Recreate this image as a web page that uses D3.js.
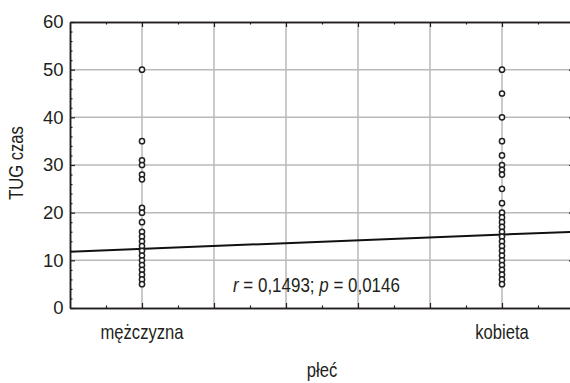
<!DOCTYPE html>
<meta charset="utf-8">
<style>
  body { margin: 0; background: #fff; }
  text { font-family: "Liberation Sans", Arial, sans-serif; fill: #231f20; }
</style>
<svg width="570" height="383"></svg>
<script src="https://cdnjs.cloudflare.com/ajax/libs/d3/7.8.5/d3.min.js"></script>
<script>

// categories on the x axis (coded 1 and 6 on a 0..7 scale)
var categories = ['mężczyzna', 'kobieta']
var categoryPos = [1, 6]

// TUG times
var menValues = [50, 35, 31, 30, 28, 27, 21, 20, 18, 16, 15, 14, 13, 12, 11, 10, 9, 8, 7, 6, 5]
var womenValues = [50, 45, 40, 35, 32, 30, 29, 28, 25, 22, 20, 19, 18, 17, 16, 15, 14, 13, 12, 11, 10, 9, 8, 7, 6, 5]

// regression line ends (at x = 0 and x = 7)
var lineX = [0, 7]
var lineY = [11.8, 16.0]

var yTicks = [0, 10, 20, 30, 40, 50, 60]

var svg = d3.select('svg')

var x = d3.scaleLinear().domain([0, 7]).range([70, 574])
var y = d3.scaleLinear().domain([0, 60]).range([308, 22])

// condensed look: squeeze text horizontally
var squeeze = 0.81

// grid
svg.append('g').selectAll('line').data(d3.range(1, 7))
    .enter().append('line')
    .attr('x1', d => x(d)).attr('x2', d => x(d))
    .attr('y1', y(0)).attr('y2', y(60))
    .attr('stroke', '#b9b9b9').attr('stroke-width', 1.5)

svg.append('g').selectAll('line').data(yTicks.slice(1, -1))
    .enter().append('line')
    .attr('x1', x(0)).attr('x2', x(7))
    .attr('y1', d => y(d)).attr('y2', d => y(d))
    .attr('stroke', '#b9b9b9').attr('stroke-width', 1.5)

// frame axes, ticks pointing inward
var bottomAxis = svg.append('g').attr('transform', 'translate(0,' + y(0) + ')')
bottomAxis.call(d3.axisBottom(x).tickValues(d3.range(1, 7)).tickSize(-5).tickSizeOuter(0).tickFormat(''))
bottomAxis.append('g').call(d3.axisBottom(x).tickValues(d3.range(0.5, 7, 1)).tickSize(-2.5).tickSizeOuter(0).tickFormat(''))

var topAxis = svg.append('g').attr('transform', 'translate(0,' + y(60) + ')')
topAxis.call(d3.axisTop(x).tickValues(d3.range(1, 7)).tickSize(-5).tickSizeOuter(0).tickFormat(''))
topAxis.append('g').call(d3.axisTop(x).tickValues(d3.range(0.5, 7, 1)).tickSize(-2.5).tickSizeOuter(0).tickFormat(''))

var leftAxis = svg.append('g').attr('transform', 'translate(' + x(0) + ',0)')
leftAxis.call(d3.axisLeft(y).tickValues(yTicks).tickSize(-5).tickSizeOuter(0).tickPadding(6.5).tickFormat(d3.format('d')))
leftAxis.append('g').call(d3.axisLeft(y).tickValues(d3.range(2, 60, 2).filter(d => d % 10)).tickSize(-2.5).tickSizeOuter(0).tickFormat(''))

var rightAxis = svg.append('g').attr('transform', 'translate(' + x(7) + ',0)')
rightAxis.call(d3.axisRight(y).tickValues(yTicks).tickSize(-5).tickSizeOuter(0).tickFormat(''))

svg.selectAll('.domain').attr('stroke', '#231f20').attr('stroke-width', 1.5)
svg.selectAll('.tick line').attr('stroke', '#231f20').attr('stroke-width', 1.2)
leftAxis.selectAll('.tick text').attr('font-size', 18.5).attr('fill', '#231f20')
    .attr('font-family', '"Liberation Sans", Arial, sans-serif')

// x category labels
svg.append('g').selectAll('text').data(categories)
    .enter().append('text')
    .attr('transform', (d, i) => 'translate(' + x(categoryPos[i]) + ',339) scale(' + squeeze + ',1)')
    .attr('text-anchor', 'middle')
    .attr('font-size', 20.5)
    .text(d => d)

// regression line
svg.append('line')
    .attr('x1', x(lineX[0])).attr('y1', y(lineY[0]))
    .attr('x2', x(lineX[1])).attr('y2', y(lineY[1]))
    .attr('stroke', '#111').attr('stroke-width', 2)

// points
var pts = menValues.map(v => ({ c: categoryPos[0], v: v }))
    .concat(womenValues.map(v => ({ c: categoryPos[1], v: v })))
svg.append('g').selectAll('circle').data(pts)
    .enter().append('circle')
    .attr('cx', d => x(d.c)).attr('cy', d => y(d.v))
    .attr('r', 2.6)
    .attr('fill', 'white').attr('stroke', '#231f20').attr('stroke-width', 1.5)

// stats text
var stat = svg.append('text')
    .attr('transform', 'translate(233,292) scale(0.87,1)')
    .attr('font-size', 19.5)
stat.append('tspan').attr('font-style', 'italic').text('r')
stat.append('tspan').text(' = 0,1493; ')
stat.append('tspan').attr('font-style', 'italic').text('p')
stat.append('tspan').text(' = 0,0146')

// axis titles
svg.append('text')
    .attr('transform', 'translate(23,163) rotate(-90) scale(' + squeeze + ',1)')
    .attr('text-anchor', 'middle')
    .attr('font-size', 20.5)
    .text('TUG czas')

svg.append('text')
    .attr('transform', 'translate(322,377) scale(' + squeeze + ',1)')
    .attr('text-anchor', 'middle')
    .attr('font-size', 20.5)
    .text('płeć')

</script>
